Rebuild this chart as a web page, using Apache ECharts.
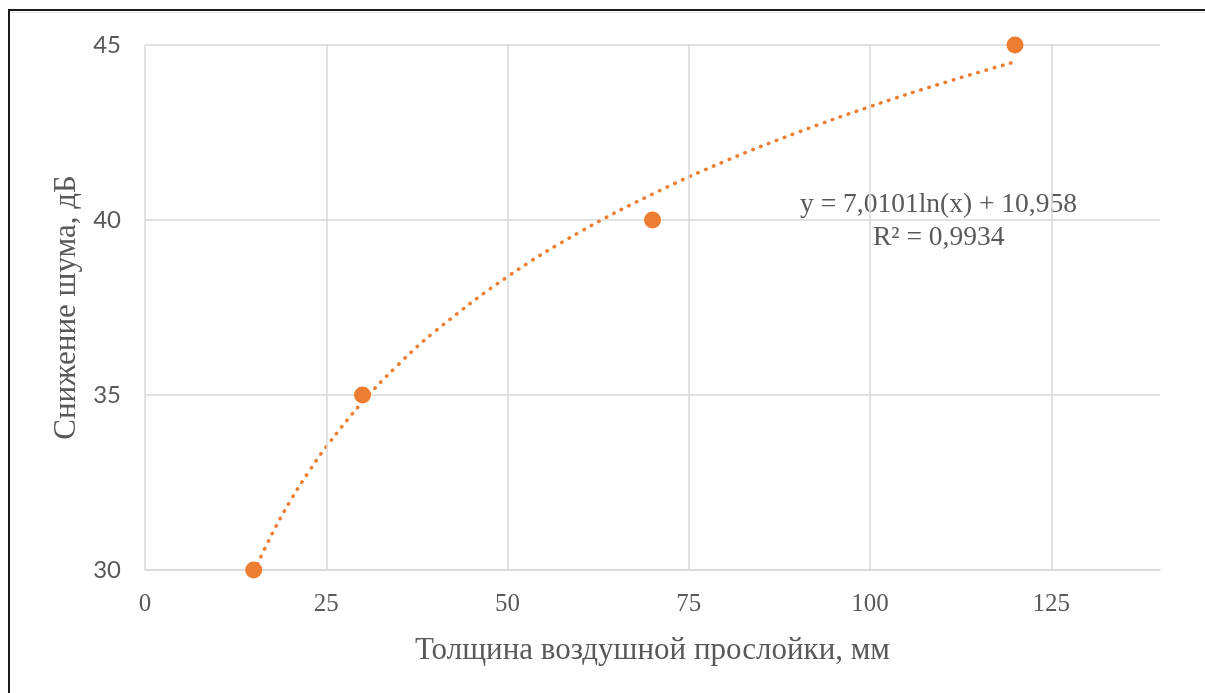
<!DOCTYPE html>
<html>
<head>
<meta charset="utf-8">
<script src="https://cdn.jsdelivr.net/npm/echarts@6/dist/echarts.min.js"></script>
<style>
html,body{margin:0;padding:0;background:#fff;}
#chart{width:1205px;height:693px;}
</style>
</head>
<body>
<div id="chart"></div>
<script>
// Measured points
const thickness = [15, 30, 70, 120];
const noiseReduction = [30, 35, 40, 45];
// Trendline (dotted curve)
const trendX = [15, 17.5, 20, 22.5, 25, 30, 35, 40, 50, 60, 70, 80, 90, 100, 110, 120];
const trendY = [29.94, 31.02, 31.96, 32.78, 33.52, 34.80, 35.88, 36.82, 38.38, 39.66, 40.74, 41.68, 42.50, 43.24, 43.91, 44.52];
const xGridTicks = [0, 25, 50, 75, 100, 125];
const xTitle = 'Толщина воздушной прослойки, мм';
const yTitle = 'Снижение шума, дБ';
const eqLine1 = 'y = 7,0101ln(x) + 10,958';
const eqLine2 = 'R² = 0,9934';

const chart = echarts.init(document.getElementById('chart'));
const orange = '#ED7D31';
const gridColor = '#D9D9D9';
const textColor = '#595959';

chart.setOption({
  animation: false,
  backgroundColor: '#fff',
  grid: { left: 145, right: 45, top: 45, bottom: 123, containLabel: false },
  xAxis: {
    type: 'value', min: 0, max: 140, interval: 25,
    name: xTitle, nameLocation: 'middle', nameGap: 65,
    nameTextStyle: { fontFamily: 'Liberation Serif', fontSize: 31, color: textColor },
    axisLine: { show: true, lineStyle: { color: gridColor, width: 1.5 } },
    axisTick: { show: false },
    axisLabel: { fontFamily: 'Liberation Serif', fontSize: 25, color: textColor, margin: 22, showMaxLabel: false,
      formatter: v => (v > 125 ? '' : String(v)) },
    splitLine: { show: false }
  },
  yAxis: {
    type: 'value', min: 30, max: 45, interval: 5,
    name: yTitle, nameLocation: 'middle', nameGap: 63, nameRotate: 90,
    nameTextStyle: { fontFamily: 'Liberation Serif', fontSize: 31, color: textColor },
    axisLine: { show: false },
    axisTick: { show: false },
    axisLabel: { fontFamily: 'Lato', fontSize: 24, color: textColor, margin: 24 },
    splitLine: { show: true, lineStyle: { color: gridColor, width: 1.5 } }
  },
  series: [
    {
      type: 'line',
      data: trendX.map((x, i) => [x, trendY[i]]),
      smooth: 0.4,
      showSymbol: false,
      symbol: 'none',
      lineStyle: { color: orange, width: 3.5, type: [0.5, 8], cap: 'round' },
      z: 3,
      markLine: {
        silent: true, symbol: 'none', label: { show: false },
        lineStyle: { color: gridColor, width: 1.5, type: 'solid' },
        data: xGridTicks.map(v => ({ xAxis: v }))
      }
    },
    {
      type: 'scatter',
      data: thickness.map((x, i) => [x, noiseReduction[i]]),
      symbol: 'circle',
      symbolSize: 17,
      itemStyle: { color: orange, opacity: 1 },
      z: 4
    }
  ],
  graphic: [
    { type: 'rect', shape: { x: 8, y: 9, width: 1200, height: 2 }, style: { fill: '#1a1a1a' } },
    { type: 'rect', shape: { x: 8, y: 12, width: 1200, height: 1 }, style: { fill: '#e6e6e6' } },
    { type: 'rect', shape: { x: 8, y: 9, width: 2, height: 690 }, style: { fill: '#1a1a1a' } },
    { type: 'text', left: 800, top: 191, style: { text: eqLine1, font: '27.5px "Liberation Serif"', fill: textColor } },
    { type: 'text', left: 873, top: 224, style: { text: eqLine2, font: '27.5px "Liberation Serif"', fill: textColor } }
  ]
});
</script>
</body>
</html>
